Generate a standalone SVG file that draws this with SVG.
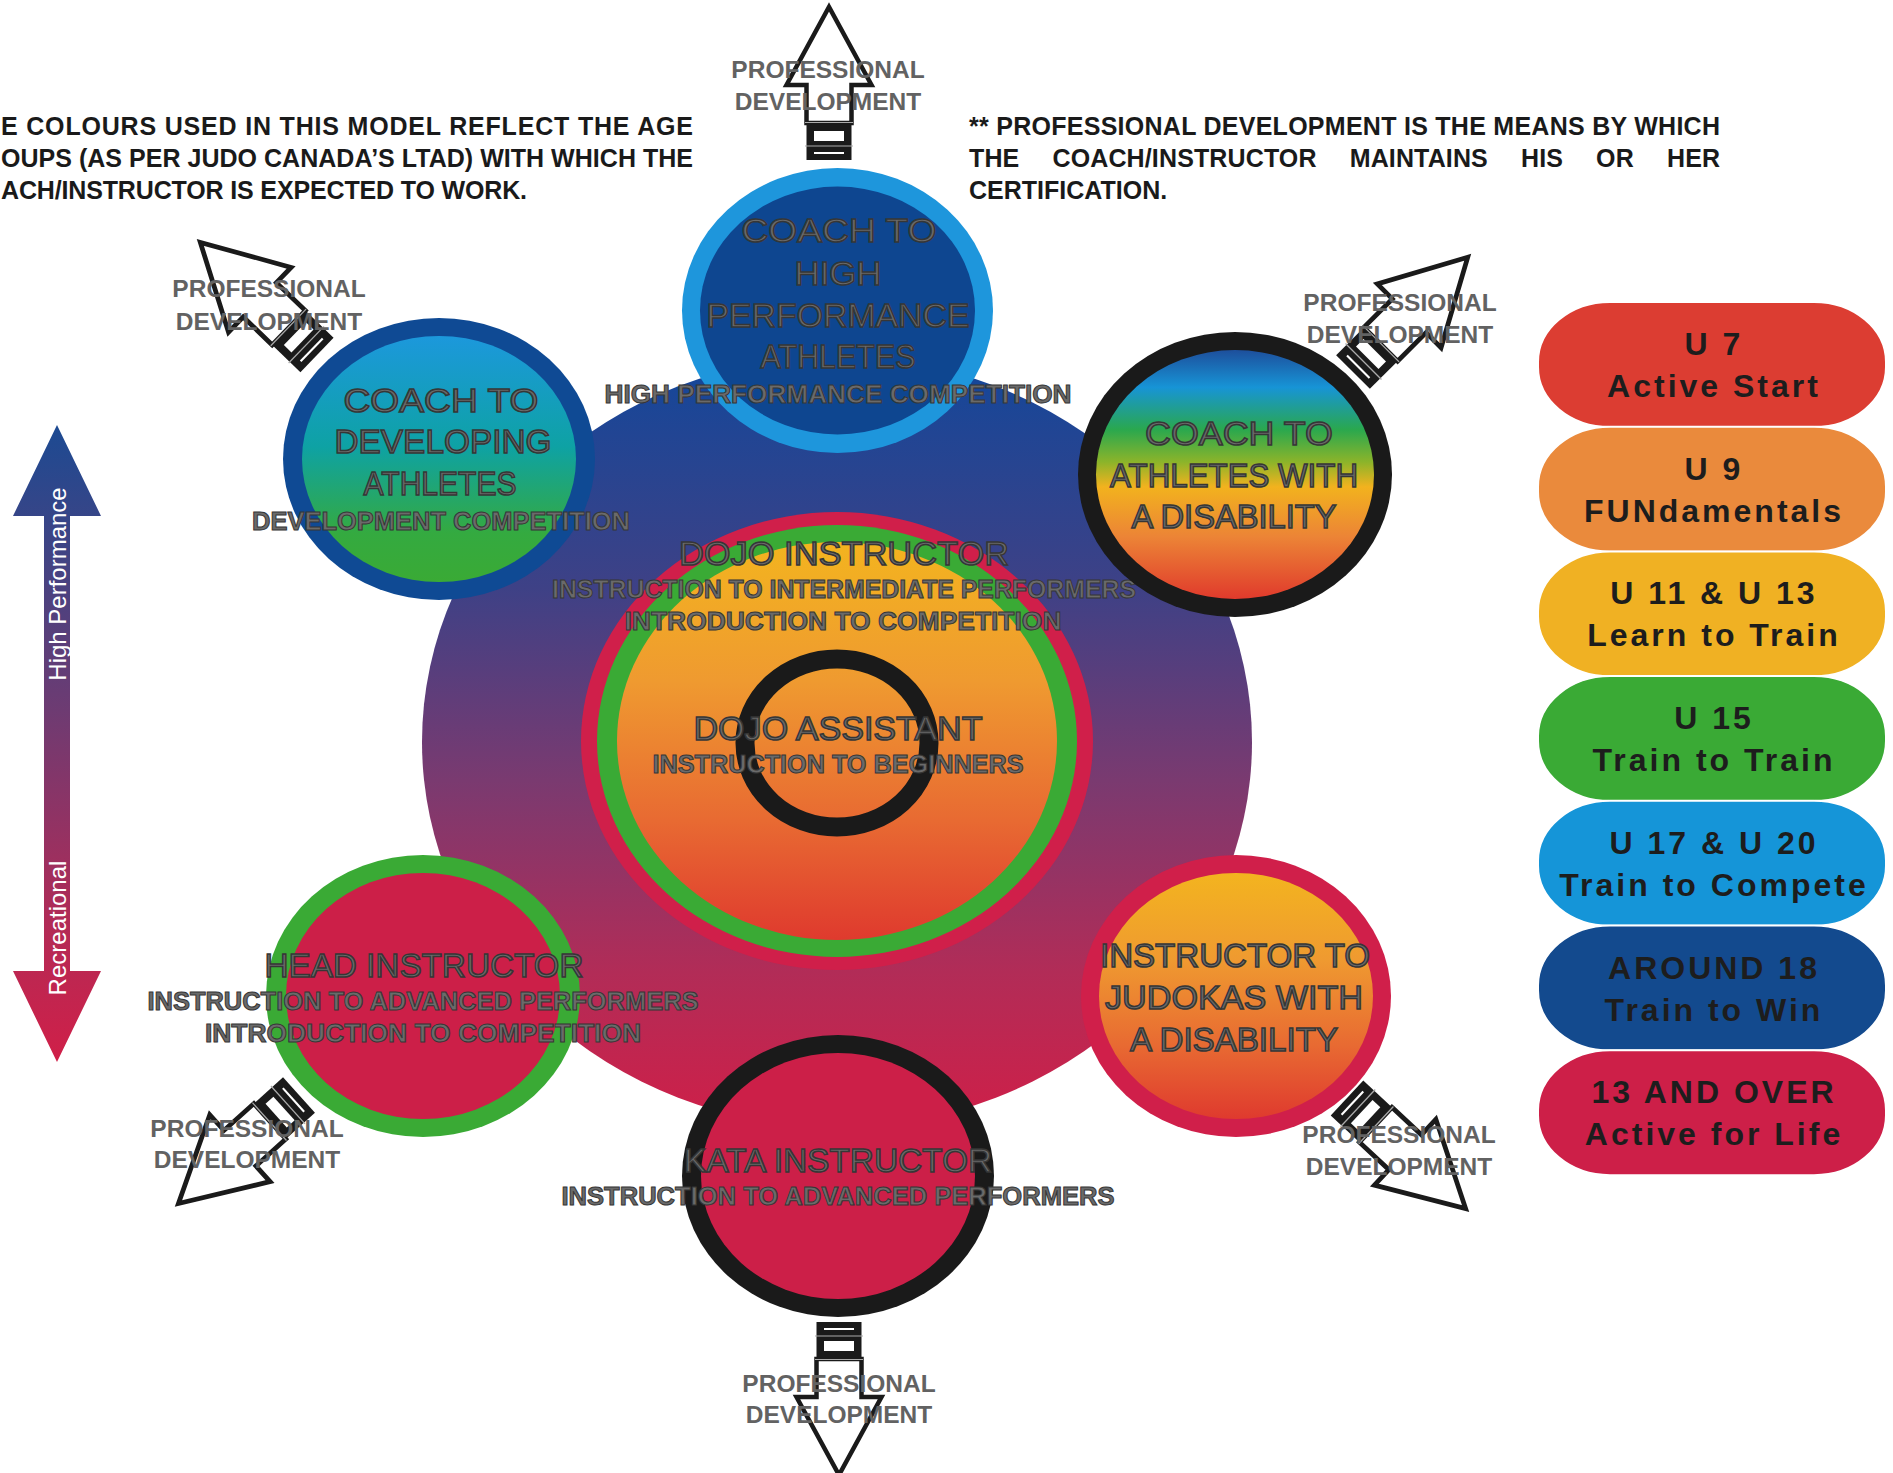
<svg xmlns="http://www.w3.org/2000/svg" width="1893" height="1473" viewBox="0 0 1893 1473">
<defs>
<style>
.ttl{font-family:"Liberation Sans",Arial,sans-serif;font-size:34px;fill:#6a6a6a;stroke:#363636;stroke-width:1.5px;text-anchor:middle}
.sub{font-family:"Liberation Sans",Arial,sans-serif;font-weight:bold;font-size:25px;fill:#6a6a6a;stroke:#363636;stroke-width:1px;text-anchor:middle}
.pd{font-family:"Liberation Sans",Arial,sans-serif;font-weight:bold;font-size:24.5px;fill:#626262;text-anchor:middle}
.hdr{font-family:"Liberation Sans",Arial,sans-serif;font-weight:bold;font-size:25px;fill:#1a1a1a}
.pill{font-family:"Liberation Sans",Arial,sans-serif;font-weight:bold;font-size:32px;fill:#1d1d1d;text-anchor:middle;letter-spacing:3px}
.ax{font-family:"Liberation Sans",Arial,sans-serif;font-size:24px;fill:#ffffff;text-anchor:middle}
.pl{stroke:#ffffff;stroke-width:2}
</style>
<linearGradient id="gBig" x1="0" y1="0" x2="0" y2="1">
<stop offset="0" stop-color="#13479a"/>
<stop offset="0.3" stop-color="#3e4186"/>
<stop offset="0.55" stop-color="#7a3a70"/>
<stop offset="0.8" stop-color="#b22c57"/>
<stop offset="1" stop-color="#cf1f48"/>
</linearGradient>
<linearGradient id="gDev" x1="0" y1="0" x2="0" y2="1">
<stop offset="0" stop-color="#1c98dc"/>
<stop offset="0.45" stop-color="#0ea2a4"/>
<stop offset="0.8" stop-color="#34aa40"/>
<stop offset="1" stop-color="#3aaa35"/>
</linearGradient>
<linearGradient id="gDis" x1="0" y1="0" x2="0" y2="1">
<stop offset="0" stop-color="#1d4f9c"/>
<stop offset="0.15" stop-color="#1794d6"/>
<stop offset="0.32" stop-color="#2aa84e"/>
<stop offset="0.45" stop-color="#8cb42a"/>
<stop offset="0.55" stop-color="#f2b21e"/>
<stop offset="0.75" stop-color="#ec8436"/>
<stop offset="1" stop-color="#e03a2c"/>
</linearGradient>
<linearGradient id="gOr" x1="0" y1="0" x2="0" y2="1">
<stop offset="0" stop-color="#f3b41f"/>
<stop offset="0.35" stop-color="#ef9a30"/>
<stop offset="0.7" stop-color="#e86a32"/>
<stop offset="1" stop-color="#df3a2e"/>
</linearGradient>
<linearGradient id="gAx" gradientUnits="userSpaceOnUse" x1="0" y1="425" x2="0" y2="1062">
<stop offset="0" stop-color="#1c4a92"/>
<stop offset="0.45" stop-color="#6e3b72"/>
<stop offset="0.8" stop-color="#b52a55"/>
<stop offset="1" stop-color="#d01f48"/>
</linearGradient>
<g id="pdArrow">
<polygon points="-22.5,-37 -22.5,-75 -42.5,-75 0,-153 42.5,-75 22.5,-75 22.5,-37" fill="#ffffff" stroke="#1a1a1a" stroke-width="4.5"/>
<rect x="-22.5" y="-37" width="45" height="37" fill="#1a1a1a"/>
<rect x="-15" y="-29" width="30" height="10" fill="#ffffff"/>
<rect x="-15" y="-8" width="30" height="2" fill="#ffffff"/>
<line x1="-24" y1="-37.5" x2="24" y2="-37.5" stroke="#aaaaaa" stroke-width="1.2"/>
<line x1="-24" y1="-14" x2="24" y2="-14" stroke="#aaaaaa" stroke-width="1.2"/>
</g>
</defs>

<rect width="1893" height="1473" fill="#ffffff"/>

<g id="notes">
<text class="hdr" x="1" y="135" textLength="692">E COLOURS USED IN THIS MODEL REFLECT THE AGE</text>
<text class="hdr" x="1" y="167" textLength="692">OUPS (AS PER JUDO CANADA’S LTAD) WITH WHICH THE</text>
<text class="hdr" x="1" y="199" textLength="526">ACH/INSTRUCTOR IS EXPECTED TO WORK.</text>
<text class="hdr" x="969" y="135" textLength="751">** PROFESSIONAL DEVELOPMENT IS THE MEANS BY WHICH</text>
<text class="hdr" x="969" y="167" word-spacing="26" textLength="751">THE COACH/INSTRUCTOR MAINTAINS HIS OR HER</text>
<text class="hdr" x="969" y="199">CERTIFICATION.</text>
</g>

<g id="field">
<ellipse cx="837" cy="742" rx="415" ry="385" fill="url(#gBig)"/>
</g>

<g id="dojo-instructor">
<ellipse cx="837" cy="741" rx="256" ry="229" fill="#d01f4a"/>
<ellipse cx="837" cy="741" rx="240" ry="216" fill="#3aaa35"/>
<ellipse cx="837" cy="741" rx="220" ry="199" fill="url(#gOr)"/>
<text class="ttl" x="844" y="565" textLength="330" lengthAdjust="spacingAndGlyphs">DOJO INSTRUCTOR</text>
<text class="sub" x="844" y="598" textLength="584" lengthAdjust="spacingAndGlyphs">INSTRUCTION TO INTERMEDIATE PERFORMERS</text>
<text class="sub" x="843" y="630" textLength="437" lengthAdjust="spacingAndGlyphs">INTRODUCTION TO COMPETITION</text>
</g>

<g id="dojo-assistant">
<ellipse cx="837" cy="743" rx="92" ry="84" fill="none" stroke="#1a1a1a" stroke-width="19"/>
<text class="ttl" x="838" y="740" textLength="289" lengthAdjust="spacingAndGlyphs">DOJO ASSISTANT</text>
<text class="sub" x="838" y="773" textLength="371" lengthAdjust="spacingAndGlyphs">INSTRUCTION TO BEGINNERS</text>
</g>

<g id="coach-high-performance">
<ellipse cx="837.5" cy="310.5" rx="155.5" ry="142.5" fill="#1e96dc"/>
<ellipse cx="837.5" cy="310.5" rx="137.5" ry="124" fill="#0e4690"/>
<text class="ttl" x="839" y="242" textLength="195" lengthAdjust="spacingAndGlyphs">COACH TO</text>
<text class="ttl" x="838" y="285" textLength="87" lengthAdjust="spacingAndGlyphs">HIGH</text>
<text class="ttl" x="838" y="327" textLength="263" lengthAdjust="spacingAndGlyphs">PERFORMANCE</text>
<text class="ttl" x="838" y="368" textLength="155" lengthAdjust="spacingAndGlyphs">ATHLETES</text>
<text class="sub" x="838" y="403" textLength="467" lengthAdjust="spacingAndGlyphs">HIGH PERFORMANCE COMPETITION</text>
</g>

<g id="coach-developing">
<ellipse cx="439" cy="459" rx="156" ry="141" fill="#0f4a94"/>
<ellipse cx="439" cy="459" rx="137" ry="123" fill="url(#gDev)"/>
<text class="ttl" x="441" y="412" textLength="195" lengthAdjust="spacingAndGlyphs">COACH TO</text>
<text class="ttl" x="443" y="453" textLength="217" lengthAdjust="spacingAndGlyphs">DEVELOPING</text>
<text class="ttl" x="440" y="495" textLength="153" lengthAdjust="spacingAndGlyphs">ATHLETES</text>
<text class="sub" x="441" y="530" textLength="378" lengthAdjust="spacingAndGlyphs">DEVELOPMENT COMPETITION</text>
</g>

<g id="coach-disability">
<ellipse cx="1235" cy="474.5" rx="157" ry="142.5" fill="#1a1a1a"/>
<ellipse cx="1235" cy="474.5" rx="139" ry="124.5" fill="url(#gDis)"/>
<text class="ttl" x="1239" y="445" textLength="188" lengthAdjust="spacingAndGlyphs">COACH TO</text>
<text class="ttl" x="1234" y="487" textLength="248" lengthAdjust="spacingAndGlyphs">ATHLETES WITH</text>
<text class="ttl" x="1234" y="528" textLength="205" lengthAdjust="spacingAndGlyphs">A DISABILITY</text>
</g>

<g id="head-instructor">
<ellipse cx="423" cy="996" rx="157" ry="141" fill="#3aaa35"/>
<ellipse cx="423" cy="996" rx="137" ry="123" fill="#cc1f48"/>
<text class="ttl" x="424" y="977" textLength="319" lengthAdjust="spacingAndGlyphs">HEAD INSTRUCTOR</text>
<text class="sub" x="423" y="1010" textLength="551" lengthAdjust="spacingAndGlyphs">INSTRUCTION TO ADVANCED PERFORMERS</text>
<text class="sub" x="423" y="1042" textLength="436" lengthAdjust="spacingAndGlyphs">INTRODUCTION TO COMPETITION</text>
</g>

<g id="instructor-disability">
<ellipse cx="1236" cy="996" rx="155" ry="141" fill="#d01f4a"/>
<ellipse cx="1236" cy="996" rx="137" ry="123" fill="url(#gOr)"/>
<text class="ttl" x="1235" y="967" textLength="270" lengthAdjust="spacingAndGlyphs">INSTRUCTOR TO</text>
<text class="ttl" x="1234" y="1009" textLength="258" lengthAdjust="spacingAndGlyphs">JUDOKAS WITH</text>
<text class="ttl" x="1234" y="1051" textLength="208" lengthAdjust="spacingAndGlyphs">A DISABILITY</text>
</g>

<g id="kata-instructor">
<ellipse cx="838" cy="1176" rx="156" ry="141" fill="#1a1a1a"/>
<ellipse cx="838" cy="1176" rx="137" ry="123" fill="#cc1f48"/>
<text class="ttl" x="838" y="1172" textLength="308" lengthAdjust="spacingAndGlyphs">KATA INSTRUCTOR</text>
<text class="sub" x="838" y="1205" textLength="553" lengthAdjust="spacingAndGlyphs">INSTRUCTION TO ADVANCED PERFORMERS</text>
</g>

<g id="connectors">
<use href="#pdArrow" transform="translate(829,160)"/>
<use href="#pdArrow" transform="translate(839,1322) rotate(180)"/>
<use href="#pdArrow" transform="translate(317,355) rotate(-46) scale(1.06)"/>
<use href="#pdArrow" transform="translate(1353,372) rotate(45) scale(1.06)"/>
<use href="#pdArrow" transform="translate(299,1095) rotate(-132) scale(1.06)"/>
<use href="#pdArrow" transform="translate(1347,1098) rotate(133) scale(1.06)"/>
<text class="pd" x="828" y="78">PROFESSIONAL</text>
<text class="pd" x="828" y="110">DEVELOPMENT</text>
<text class="pd" x="269" y="297">PROFESSIONAL</text>
<text class="pd" x="269" y="330">DEVELOPMENT</text>
<text class="pd" x="1400" y="311">PROFESSIONAL</text>
<text class="pd" x="1400" y="343">DEVELOPMENT</text>
<text class="pd" x="247" y="1137">PROFESSIONAL</text>
<text class="pd" x="247" y="1168">DEVELOPMENT</text>
<text class="pd" x="1399" y="1143">PROFESSIONAL</text>
<text class="pd" x="1399" y="1175">DEVELOPMENT</text>
<text class="pd" x="839" y="1392">PROFESSIONAL</text>
<text class="pd" x="839" y="1423">DEVELOPMENT</text>
</g>

<g id="axis">
<polygon points="57,425 101,516 70,516 70,971 101,971 57,1062 13,971 44,971 44,516 13,516" fill="url(#gAx)"/>
<text class="ax" x="66" y="584" transform="rotate(-90 66 584)">High Performance</text>
<text class="ax" x="66" y="928" transform="rotate(-90 66 928)">Recreational</text>
</g>

<g id="legend">
<g id="pill-u7"><rect class="pl" x="1538" y="302" width="348" height="125" rx="72" ry="60" fill="#dc3d32"/>
<text class="pill" x="1714" y="355">U 7</text><text class="pill" x="1714" y="397">Active Start</text></g>
<g id="pill-u9"><rect class="pl" x="1538" y="426.7" width="348" height="125" rx="72" ry="60" fill="#ea8a3c"/>
<text class="pill" x="1714" y="479.7">U 9</text><text class="pill" x="1714" y="521.7">FUNdamentals</text></g>
<g id="pill-u11"><rect class="pl" x="1538" y="551.4" width="348" height="125" rx="72" ry="60" fill="#f0b123"/>
<text class="pill" x="1714" y="604.4">U 11 &amp; U 13</text><text class="pill" x="1714" y="646.4">Learn to Train</text></g>
<g id="pill-u15"><rect class="pl" x="1538" y="676.1" width="348" height="125" rx="72" ry="60" fill="#3aaa35"/>
<text class="pill" x="1714" y="729.1">U 15</text><text class="pill" x="1714" y="771.1">Train to Train</text></g>
<g id="pill-u17"><rect class="pl" x="1538" y="800.8" width="348" height="125" rx="72" ry="60" fill="#1595d8"/>
<text class="pill" x="1714" y="853.8">U 17 &amp; U 20</text><text class="pill" x="1714" y="895.8">Train to Compete</text></g>
<g id="pill-18"><rect class="pl" x="1538" y="925.5" width="348" height="125" rx="72" ry="60" fill="#134a8e"/>
<text class="pill" x="1714" y="978.5">AROUND 18</text><text class="pill" x="1714" y="1020.5">Train to Win</text></g>
<g id="pill-13"><rect class="pl" x="1538" y="1050.2" width="348" height="125" rx="72" ry="60" fill="#cd1f48"/>
<text class="pill" x="1714" y="1103.2">13 AND OVER</text><text class="pill" x="1714" y="1145.2">Active for Life</text></g>
</g>
</svg>
